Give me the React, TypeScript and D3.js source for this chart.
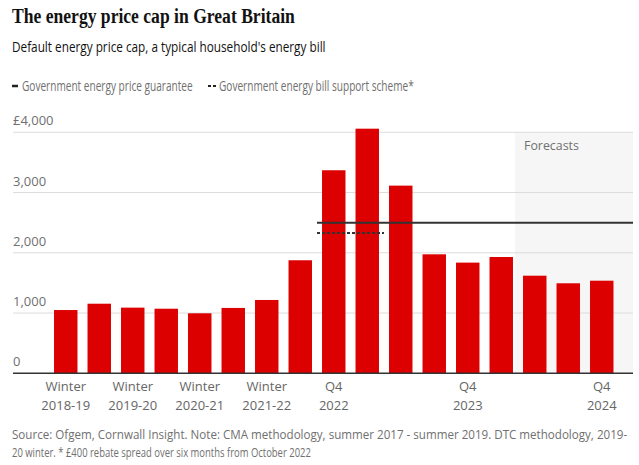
import React from "react";
import * as d3 from "d3";

const categories = ["W18", "b1", "W19", "b3", "W20", "b5", "W21", "b7", "Q422", "b9", "b10", "b11", "Q423", "b13", "b14", "b15", "Q424"];
const values = [1050, 1155, 1090, 1072, 996, 1085, 1217, 1876, 3370, 4060, 3115, 1975, 1837, 1930, 1620, 1494, 1537];
const tickLabels = [
  { cat: "W18", l1: "Winter", l2: "2018-19" },
  { cat: "W19", l1: "Winter", l2: "2019-20" },
  { cat: "W20", l1: "Winter", l2: "2020-21" },
  { cat: "W21", l1: "Winter", l2: "2021-22" },
  { cat: "Q422", l1: "Q4", l2: "2022" },
  { cat: "Q423", l1: "Q4", l2: "2023" },
  { cat: "Q424", l1: "Q4", l2: "2024" },
];
const yTicks = [0, 1000, 2000, 3000, 4000];
const guaranteeValue = 2500;
const supportValue = 2330;
const guaranteeStart = "Q422";
const supportCats = ["Q422", "b9"];
const forecastStart = "b14";

const W = 639, H = 465;
const left = 13, right = 633, top = 132.3, bottom = 373.3;
const sans = "'Open Sans', 'Noto Sans', sans-serif";
const serif = "'Liberation Serif', serif";
const grey = "#707070";

let ctx: CanvasRenderingContext2D | null = null;
function measure(text: string, font: string): number {
  if (!ctx) ctx = document.createElement("canvas").getContext("2d");
  if (!ctx) return text.length * 7;
  ctx.font = font;
  return ctx.measureText(text).width;
}

function FitText(props: { x: number; y: number; width: number; size: number; family: string; weight?: string; fill: string; children: string }) {
  const { x, y, width, size, family, weight = "normal", fill, children } = props;
  const natural = measure(children, `${weight} ${size}px ${family}`);
  const sx = natural > 0 ? width / natural : 1;
  return (
    <text transform={`translate(${x},${y}) scale(${sx},1)`} fontFamily={family} fontWeight={weight} fontSize={size} fill={fill}>
      {children}
    </text>
  );
}

export default function App() {
  const x = d3.scaleBand<string>().domain(categories).range([49, 618.5]).paddingInner(0.3).paddingOuter(0.15);
  const y = d3.scaleLinear().domain([0, 4000]).range([bottom, top]);
  const gap = x.step() * 0.3 / 2;
  const fmt = (v: number) => (v === 4000 ? "£" + d3.format(",")(v) : v === 0 ? "0" : d3.format(",")(v));
  const fx = (x(forecastStart) as number) - gap - 3;
  const gx = (x(guaranteeStart) as number) - gap;
  const sx0 = (x(supportCats[0]) as number) - gap;
  const sx1 = (x(supportCats[1]) as number) + x.bandwidth() + gap;
  return (
    <svg width={W} height={H} style={{ position: "absolute", left: 0, top: 0, background: "#fff" }}>
      <FitText x={12} y={23} width={283} size={21} family={serif} weight="bold" fill="#121212">The energy price cap in Great Britain</FitText>
      <FitText x={12} y={52} width={314} size={15} family={sans} fill="#121212">Default energy price cap, a typical household's energy bill</FitText>
      <line x1={12} x2={18} y1={86} y2={86} stroke="#222" strokeWidth={2.5} />
      <FitText x={22} y={90.5} width={171} size={14} family={sans} fill={grey}>Government energy price guarantee</FitText>
      <line x1={208} x2={216} y1={86} y2={86} stroke="#222" strokeWidth={2} strokeDasharray="3,2" />
      <FitText x={219} y={90.5} width={195} size={14} family={sans} fill={grey}>Government energy bill support scheme*</FitText>

      <rect x={fx} y={top} width={right - fx} height={bottom - top} fill="#f6f6f6" />
      <FitText x={fx + 9} y={150} width={55} size={13} family={sans} fill={grey}>Forecasts</FitText>

      {yTicks.map((t) => (
        <g key={t}>
          {t > 0 && <line x1={left} x2={right} y1={y(t)} y2={y(t)} stroke="#dcdcdc" strokeWidth={1} />}
          <text x={left} y={y(t) - 7} fontFamily={sans} fontSize={13} fill={grey}>{fmt(t)}</text>
        </g>
      ))}

      {categories.map((c, i) => (
        <rect key={c} x={x(c)} y={y(values[i])} width={x.bandwidth()} height={bottom - y(values[i])} fill="#dc0000" />
      ))}

      <line x1={gx} x2={right} y1={y(guaranteeValue)} y2={y(guaranteeValue)} stroke="#333" strokeWidth={2} />
      <line x1={sx0} x2={sx1} y1={y(supportValue)} y2={y(supportValue)} stroke="#333" strokeWidth={2} strokeDasharray="3,2" />

      <line x1={left} x2={right} y1={bottom} y2={bottom} stroke="#333" strokeWidth={1.5} />

      {tickLabels.map((t) => {
        const cx = (x(t.cat) as number) + x.bandwidth() / 2;
        return (
          <g key={t.cat} fontFamily={sans} fontSize={13} fill="#666" textAnchor="middle">
            <text x={cx} y={391}>{t.l1}</text>
            <text x={cx} y={410}>{t.l2}</text>
          </g>
        );
      })}

      <FitText x={12} y={439} width={616} size={12.5} family={sans} fill={grey}>Source: Ofgem, Cornwall Insight. Note: CMA methodology, summer 2017 - summer 2019. DTC methodology, 2019-</FitText>
      <FitText x={12} y={457} width={299} size={12.5} family={sans} fill={grey}>20 winter. * £400 rebate spread over six months from October 2022</FitText>
    </svg>
  );
}
